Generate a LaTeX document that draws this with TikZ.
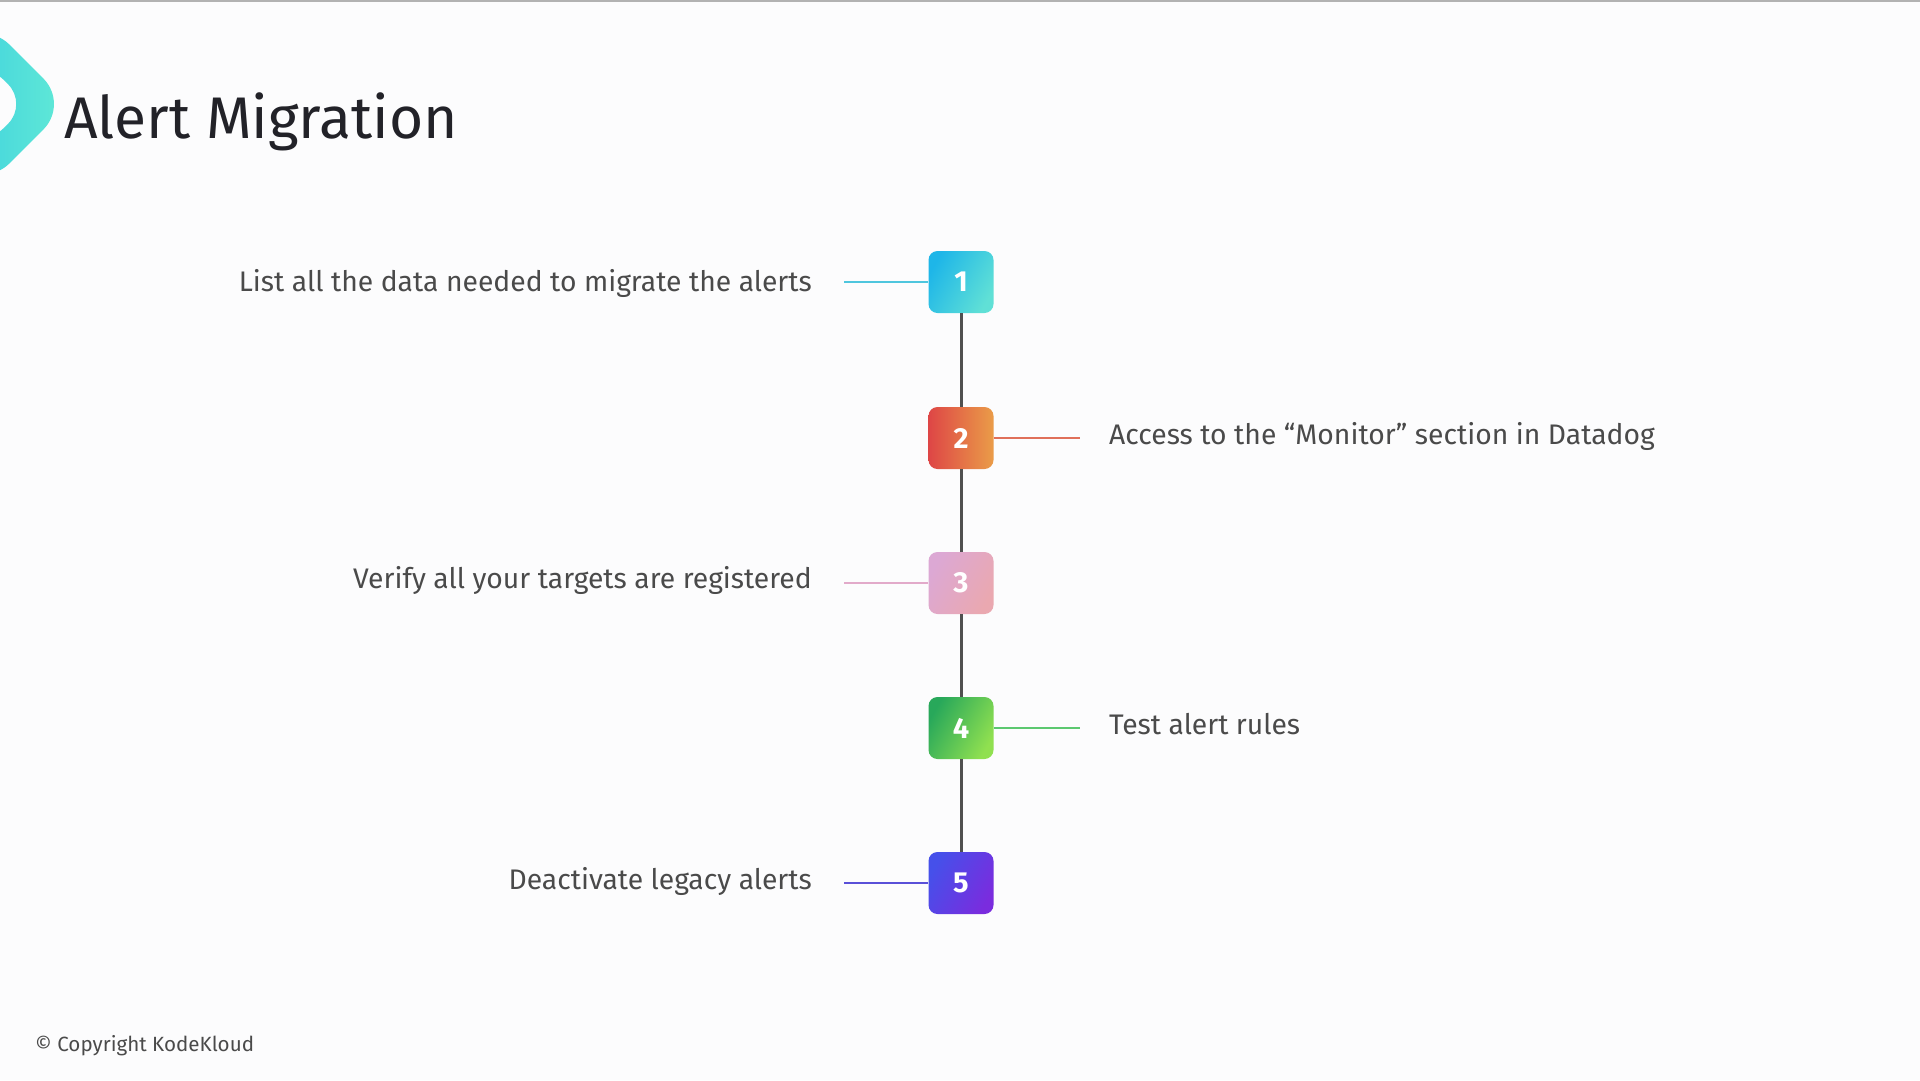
\documentclass[tikz,border=0pt]{standalone}
\usepackage{fontspec}
\setmainfont{Fira Sans}
\definecolor{bgc}{HTML}{FCFCFD}
\definecolor{txt}{HTML}{4A4A4A}
\definecolor{ttl}{HTML}{222228}
\definecolor{vline}{HTML}{505050}
\definecolor{c1a}{HTML}{1EB6E8}\definecolor{c1b}{HTML}{60E0D6}\definecolor{l1}{HTML}{4EC6DE}
\definecolor{c2a}{HTML}{DE4646}\definecolor{c2b}{HTML}{EA9C48}\definecolor{l2}{HTML}{E0705A}
\definecolor{c3a}{HTML}{DCA8D4}\definecolor{c3b}{HTML}{EAA8B0}\definecolor{l3}{HTML}{E2AACA}
\definecolor{c4a}{HTML}{28A85A}\definecolor{c4b}{HTML}{90E050}\definecolor{l4}{HTML}{5CC870}
\definecolor{c5a}{HTML}{4650EA}\definecolor{c5b}{HTML}{7A2CDE}\definecolor{l5}{HTML}{5A50D8}
\definecolor{logoa}{HTML}{2CC4E2}\definecolor{logob}{HTML}{62EAD6}
\begin{document}
\begin{tikzpicture}[x=1pt,y=-1pt,
  numbox/.style={rounded corners=9pt, minimum width=65pt, minimum height=62pt, inner sep=0pt,
    text=white, font=\fontsize{29}{32}\selectfont\bfseries},
  lbl/.style={text=txt, font=\fontsize{28.3}{34}\selectfont, inner sep=0pt},
  conn/.style={line width=2.5pt}]
\useasboundingbox (0,0) rectangle (1920,1080);
\fill[bgc] (0,0) rectangle (1920,1080);
\fill[gray!60] (0,0) rectangle (1920,2);
% logo
\begin{scope}[shift={(-16,104)}, rotate=45]
\shade[even odd rule, left color=logoa, right color=logob, shading angle=90]
  [rounded corners=36pt] (-60,-60) rectangle (60,60)
  [rounded corners=28pt] (-31,-31) rectangle (31,31);
\end{scope}
\node[anchor=base west, inner sep=0pt, text=ttl, font=\fontsize{58.7}{66}\selectfont] (title) at (64,138) {Alert Migration};
% boxes
\node[numbox, left color=c1a, right color=c1b, shading angle=60] (b1) at (961,282) {1};
\node[numbox, left color=c2a, right color=c2b] (b2) at (961,438) {2};
\node[numbox, left color=c3a, right color=c3b, shading angle=60] (b3) at (961,583) {3};
\node[numbox, left color=c4a, right color=c4b, shading angle=60] (b4) at (961,728) {4};
\node[numbox, left color=c5a, right color=c5b, shading angle=60] (b5) at (961,883) {5};
\draw[vline, line width=3pt] (b1.south) -- (b2.north) (b2.south) -- (b3.north) (b3.south) -- (b4.north) (b4.south) -- (b5.north);
% labels
\node[lbl, anchor=base east] (t1) at (812,291) {List all the data needed to migrate the alerts};
\node[lbl, anchor=base west] (t2) at (1109,444) {Access to the “Monitor” section in Datadog};
\node[lbl, anchor=base east] (t3) at (812,588) {Verify all your targets are registered};
\node[lbl, anchor=base west] (t4) at (1109,734) {Test alert rules};
\node[lbl, anchor=base east] (t5) at (812,889) {Deactivate legacy alerts};
\coordinate (e1) at (844,282);
\coordinate (e2) at (1080,438);
\coordinate (e3) at (844,583);
\coordinate (e4) at (1080,728);
\coordinate (e5) at (844,883);
\draw[conn, l1] (e1) -- (b1.west);
\draw[conn, l2] (b2.east) -- (e2);
\draw[conn, l3] (e3) -- (b3.west);
\draw[conn, l4] (b4.east) -- (e4);
\draw[conn, l5] (e5) -- (b5.west);
\node[anchor=base west, inner sep=0pt, text=txt, font=\fontsize{20.6}{24}\selectfont] (copy) at (35,1051) {© Copyright KodeKloud};
\end{tikzpicture}
\end{document}
